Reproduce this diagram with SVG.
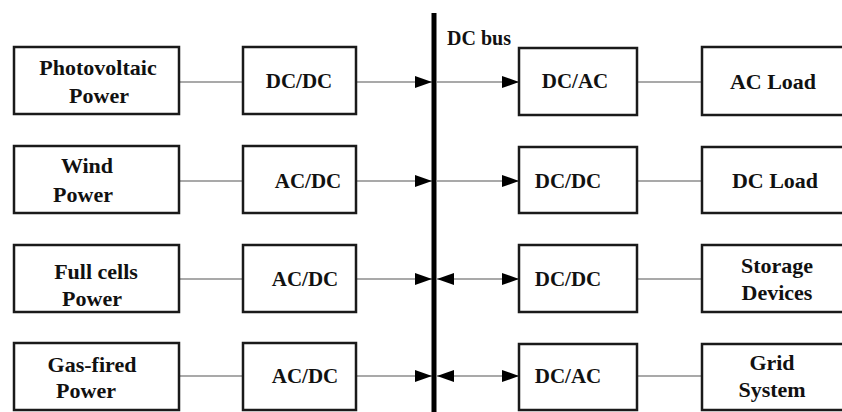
<svg xmlns="http://www.w3.org/2000/svg" width="842" height="412" viewBox="0 0 842 412">
<defs>
<style>
.box{fill:#fff;stroke:#1a1a1a;stroke-width:2.5}
.t{font-weight:bold;font-size:22px;fill:#111;text-anchor:middle}
.c{font-size:21px}
.ln{stroke:#8c8c8c;stroke-width:1.6;fill:none}
</style>
<marker id="ah" markerUnits="userSpaceOnUse" markerWidth="17" markerHeight="12" refX="17" refY="6" orient="auto-start-reverse">
<path d="M0,0 L17,6 L0,12 z" fill="#000"/>
</marker>
</defs>
<rect width="842" height="412" fill="#fff"/>
<g id="connectors">
<line class="ln" x1="179" y1="82" x2="243" y2="82"/>
<line class="ln" x1="356" y1="82" x2="432" y2="82" marker-end="url(#ah)"/>
<line class="ln" x1="437" y1="82" x2="519" y2="82" marker-end="url(#ah)"/>
<line class="ln" x1="637" y1="82" x2="702" y2="82"/>
<line class="ln" x1="179" y1="181" x2="243" y2="181"/>
<line class="ln" x1="356" y1="181" x2="432" y2="181" marker-end="url(#ah)"/>
<line class="ln" x1="437" y1="181" x2="519" y2="181" marker-end="url(#ah)"/>
<line class="ln" x1="637" y1="181" x2="702" y2="181"/>
<line class="ln" x1="179" y1="279" x2="243" y2="279"/>
<line class="ln" x1="356" y1="279" x2="432" y2="279" marker-end="url(#ah)"/>
<line class="ln" x1="437" y1="279" x2="519" y2="279" marker-start="url(#ah)" marker-end="url(#ah)"/>
<line class="ln" x1="637" y1="279" x2="702" y2="279"/>
<line class="ln" x1="179" y1="376" x2="243" y2="376"/>
<line class="ln" x1="356" y1="376" x2="432" y2="376" marker-end="url(#ah)"/>
<line class="ln" x1="437" y1="376" x2="519" y2="376" marker-start="url(#ah)" marker-end="url(#ah)"/>
<line class="ln" x1="637" y1="376" x2="702" y2="376"/>
</g>
<g font-family="Liberation Serif, DejaVu Serif, serif">
<g id="dc-bus">
<rect x="431.5" y="13" width="5" height="400" fill="#000"/>
<text class="t" x="447" y="45" style="text-anchor:start;font-size:20px">DC bus</text>
</g>
<g id="photovoltaic"><rect class="box" x="14" y="47" width="165" height="67"/><text class="t" x="98" y="75">Photovoltaic</text><text class="t" x="99" y="103">Power</text></g>
<g id="wind"><rect class="box" x="14" y="146" width="165" height="67"/><text class="t" x="87" y="173">Wind</text><text class="t" x="83" y="202">Power</text></g>
<g id="fullcells"><rect class="box" x="14" y="245" width="165" height="67"/><text class="t" x="96" y="279">Full cells</text><text class="t" x="92" y="306">Power</text></g>
<g id="gasfired"><rect class="box" x="14" y="343" width="165" height="67"/><text class="t" x="92" y="372">Gas-fired</text><text class="t" x="86" y="398">Power</text></g>
<g id="conv1"><rect class="box" x="243" y="47" width="113" height="67"/><text class="t c" x="299" y="88">DC/DC</text></g>
<g id="conv2"><rect class="box" x="243" y="146" width="113" height="67"/><text class="t c" x="308" y="188">AC/DC</text></g>
<g id="conv3"><rect class="box" x="243" y="245" width="113" height="67"/><text class="t c" x="305" y="286">AC/DC</text></g>
<g id="conv4"><rect class="box" x="243" y="343" width="113" height="67"/><text class="t c" x="305" y="383">AC/DC</text></g>
<g id="out1"><rect class="box" x="519" y="48" width="118" height="67"/><text class="t c" x="575" y="88">DC/AC</text></g>
<g id="out2"><rect class="box" x="519" y="147" width="118" height="66"/><text class="t c" x="568" y="188">DC/DC</text></g>
<g id="out3"><rect class="box" x="519" y="245" width="118" height="67"/><text class="t c" x="568" y="286">DC/DC</text></g>
<g id="out4"><rect class="box" x="519" y="344" width="118" height="66"/><text class="t c" x="568" y="383">DC/AC</text></g>
<g id="acload"><rect class="box" x="702" y="47" width="150" height="68"/><text class="t" x="773" y="89">AC Load</text></g>
<g id="dcload"><rect class="box" x="702" y="147" width="150" height="66"/><text class="t" x="775" y="188">DC Load</text></g>
<g id="storage"><rect class="box" x="702" y="245" width="150" height="67"/><text class="t" x="777" y="273">Storage</text><text class="t" x="777" y="300">Devices</text></g>
<g id="grid"><rect class="box" x="702" y="344" width="150" height="66"/><text class="t" x="772" y="370">Grid</text><text class="t" x="772" y="397">System</text></g>
</g>
</svg>
